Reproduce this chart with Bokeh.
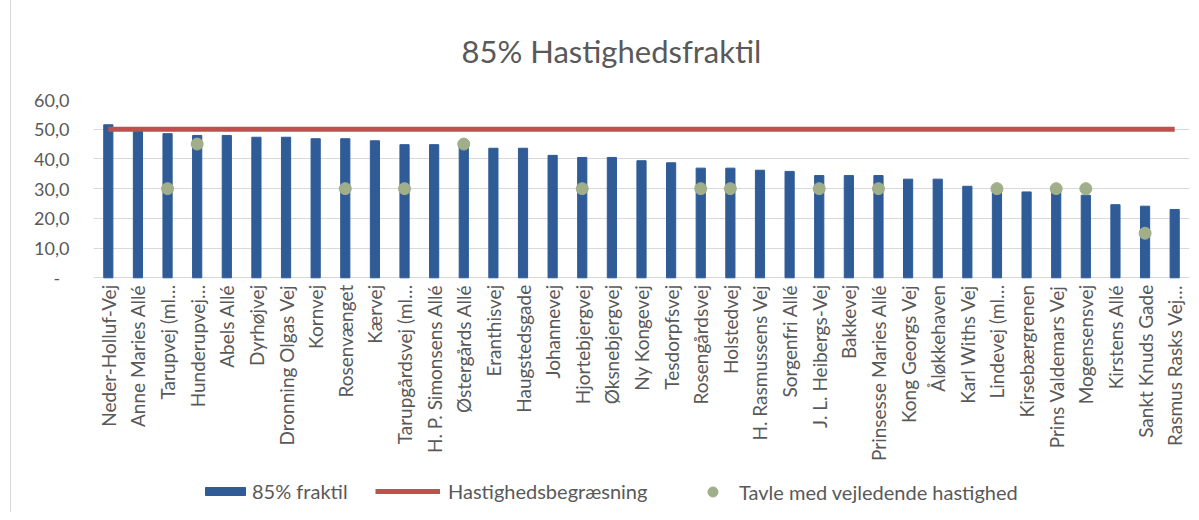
from math import pi
from bokeh.plotting import figure
from bokeh.models import (FactorRange, Range1d, FixedTicker, CustomJSTickFormatter,
                          Legend, LegendItem)
from bokeh.core.properties import value
from bokeh.embed import file_html
from bokeh.resources import INLINE

streets = ["Neder-Holluf-Vej", "Anne Maries Allé", "Tarupvej (ml…", "Hunderupvej…",
           "Abels Allé", "Dyrhøjvej", "Dronning Olgas Vej", "Kornvej", "Rosenvænget",
           "Kærvej", "Tarupgårdsvej (ml…", "H. P. Simonsens Allé", "Østergårds Allé",
           "Eranthisvej", "Haugstedsgade", "Johannevej", "Hjortebjergvej", "Øksnebjergvej",
           "Ny Kongevej", "Tesdorpfsvej", "Rosengårdsvej", "Holstedvej", "H. Rasmussens Vej",
           "Sorgenfri Allé", "J. L. Heibergs-Vej", "Bakkevej", "Prinsesse Maries Allé",
           "Kong Georgs Vej", "Åløkkehaven", "Karl Withs Vej", "Lindevej (ml…",
           "Kirsebærgrenen", "Prins Valdemars Vej", "Mogensensvej", "Kirstens Allé",
           "Sankt Knuds Gade", "Rasmus Rasks Vej…"]

fraktil85 = [51.5, 49.5, 48.5, 47.9, 47.9, 47.3, 47.3, 46.8, 46.8, 46.1, 44.8, 44.8, 44.6,
             43.6, 43.6, 41.2, 40.5, 40.5, 39.4, 38.7, 36.9, 36.9, 36.2, 35.8, 34.4, 34.4,
             34.4, 33.2, 33.2, 30.8, 30.2, 28.9, 29.2, 27.8, 24.6, 24.1, 23.0]

speed_limit = [50] * len(streets)

sign_streets = ["Tarupvej (ml…", "Hunderupvej…", "Rosenvænget", "Tarupgårdsvej (ml…",
                "Østergårds Allé", "Hjortebjergvej", "Rosengårdsvej", "Holstedvej",
                "J. L. Heibergs-Vej", "Prinsesse Maries Allé", "Lindevej (ml…",
                "Prins Valdemars Vej", "Mogensensvej", "Sankt Knuds Gade"]
sign_speed = [30, 45, 30, 30, 45, 30, 30, 30, 30, 30, 30, 30, 30, 15]

y_ticks = [0, 10, 20, 30, 40, 50, 60]

FONT = "Lato"
GREY = "#595959"
BLUE = "#2f5b97"
RED = "#c0504d"
GREEN = "#a0ae8a"

# the plot frame reaches down to the legend row; the value axis shows 0..60 only
p = figure(width=1180, height=512, x_range=FactorRange(factors=streets),
           y_range=Range1d(-78.3, 60), output_backend="svg", toolbar_location=None,
           min_border_left=82, min_border_right=2, min_border_top=98,
           min_border_bottom=2)
p.styles = {"margin-left": "10px", "border-left": "1px solid #d9d9d9"}
p.outline_line_color = None
p.background_fill_color = "white"
p.border_fill_color = "white"

p.title.text = "85% Hastighedsfraktil"
p.title.align = "left"
p.title.offset = 368
p.title.text_font = FONT
p.title.text_font_size = "31px"
p.title.text_font_style = "normal"
p.title.text_color = GREY
p.title.standoff = 59

bars = p.vbar(x=streets, top=fraktil85, width=0.31, color=BLUE)
limit = p.line(x=streets, y=speed_limit, line_width=5, color=RED)
signs = p.scatter(x=sign_streets, y=sign_speed, size=12, color=GREEN)

# category labels under the zero line, rotated like the original
p.text(x=streets, y=[0] * len(streets), text=streets, angle=pi / 2, y_offset=7,
       text_align="right", text_baseline="middle", text_font=value(FONT),
       text_font_size="19px", text_color=GREY)

p.xaxis.visible = False
p.xgrid.grid_line_color = None
p.ygrid.grid_line_color = "#d9d9d9"
p.ygrid.grid_line_width = 1

p.yaxis.ticker = FixedTicker(ticks=y_ticks)
p.yaxis.formatter = CustomJSTickFormatter(
    code='return tick == 0 ? "-\u00a0\u00a0" : tick.toFixed(1).replace(".", ",");')
p.yaxis.axis_line_color = None
p.yaxis.major_tick_line_color = None
p.yaxis.minor_tick_line_color = None
p.yaxis.major_label_standoff = 18
p.yaxis.major_label_text_font = FONT
p.yaxis.major_label_text_font_size = "18px"
p.yaxis.major_label_text_color = GREY


def add_legend(label, renderer, vx, vy, gw, gh, standoff):
    lg = Legend(items=[LegendItem(label=label, renderers=[renderer])],
                location=(vx, vy), orientation="horizontal",
                glyph_width=gw, glyph_height=gh, label_standoff=standoff,
                label_height=24, padding=0, margin=0, spacing=0,
                border_line_color=None, background_fill_alpha=0,
                label_text_font=FONT, label_text_font_size="20px",
                label_text_color=GREY)
    p.add_layout(lg, "center")


add_legend("85% fraktil", bars, 107, 7, 50, 10, 2)
add_legend("Hastighedsbegræsning", limit, 282, 7, 65, 10, 8)
add_legend("Tavle med vejledende hastighed", signs, 607, 6, 25, 25, 14)

open("out.html", "w").write(file_html(p, INLINE))
